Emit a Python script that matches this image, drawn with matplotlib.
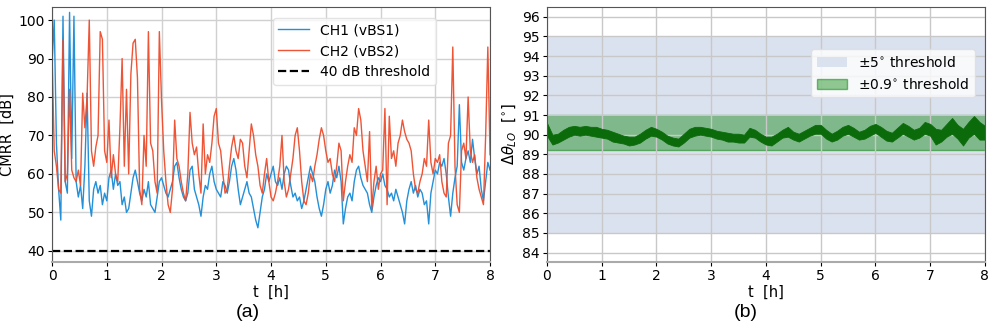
import numpy as np
import matplotlib
matplotlib.use("Agg")
import matplotlib.pyplot as plt

# CMRR of both channels, one sample every 0.04 h
cmrr_ch1 = [89, 100, 68, 56, 48, 101, 58, 55, 102, 64, 101, 58, 54, 57, 51, 62, 81, 53, 49, 56,
            58, 55, 57, 52, 55, 53, 59, 61, 56, 60, 57, 58, 52, 54, 50, 51, 55, 59, 61, 58,
            55, 53, 56, 54, 58, 52, 51, 50, 54, 58, 59, 57, 55, 54, 56, 58, 62, 63, 59, 56,
            54, 53, 55, 61, 62, 56, 54, 52, 49, 54, 57, 56, 60, 62, 58, 56, 55, 54, 58, 57,
            55, 58, 62, 64, 61, 56, 52, 54, 56, 58, 55, 54, 51, 48, 46, 50, 54, 56, 60, 58,
            60, 62, 58, 57, 59, 56, 60, 62, 61, 57, 54, 55, 53, 54, 51, 53, 56, 59, 62, 60,
            58, 54, 51, 49, 52, 56, 58, 55, 57, 61, 59, 62, 58, 47, 51, 54, 55, 53, 58, 61,
            62, 59, 57, 56, 55, 52, 50, 54, 57, 59, 58, 60, 57, 56, 54, 55, 53, 56, 54, 52,
            50, 47, 53, 56, 58, 55, 57, 54, 56, 55, 52, 53, 47, 55, 58, 61, 60, 63, 62, 64,
            60, 54, 49, 55, 59, 62, 78, 63, 61, 64, 66, 63, 69, 64, 60, 62, 56, 53, 58, 63, 61]
cmrr_ch2 = [91, 66, 62, 56, 55, 95, 58, 60, 82, 61, 59, 58, 61, 57, 81, 72, 80, 100, 66, 62,
            67, 70, 97, 95, 66, 63, 74, 59, 65, 60, 58, 72, 90, 62, 82, 60, 86, 94, 95, 85,
            56, 52, 70, 62, 97, 68, 66, 58, 55, 97, 79, 66, 58, 52, 50, 56, 74, 64, 62, 58,
            55, 53, 60, 76, 68, 65, 67, 60, 55, 73, 60, 65, 63, 68, 75, 77, 68, 66, 60, 55,
            56, 62, 67, 70, 66, 64, 69, 68, 62, 59, 66, 73, 70, 65, 62, 57, 55, 60, 64, 58,
            54, 53, 55, 58, 62, 70, 58, 54, 56, 60, 64, 70, 72, 66, 58, 53, 52, 55, 60, 58,
            62, 65, 69, 72, 70, 66, 63, 64, 60, 58, 62, 68, 66, 53, 58, 62, 65, 63, 72, 70,
            77, 74, 66, 62, 58, 71, 51, 58, 62, 56, 60, 61, 77, 52, 75, 64, 66, 62, 68, 70,
            74, 71, 69, 68, 66, 60, 56, 55, 58, 60, 64, 62, 74, 63, 60, 64, 63, 65, 58, 55,
            54, 68, 70, 93, 62, 52, 50, 66, 68, 64, 80, 66, 63, 65, 59, 56, 54, 52, 70, 93, 65]
cmrr_threshold = 40

# LO phase difference: upper / lower edge of the noisy trace, every 0.1 h
theta_hi = [90.6, 90.0, 90.05, 90.25, 90.4, 90.45, 90.4, 90.45, 90.4, 90.4,
            90.3, 90.25, 90.15, 90.05, 89.95, 89.9, 89.9, 90.05, 90.25, 90.4,
            90.3, 90.15, 89.95, 89.85, 89.8, 90.05, 90.3, 90.4, 90.4, 90.35,
            90.3, 90.2, 90.15, 90.1, 90.05, 90.05, 90.0, 90.35, 90.25, 90.05,
            89.9, 89.9, 90.05, 90.25, 90.4, 90.15, 90.05, 90.2, 90.35, 90.5,
            90.5, 90.25, 90.05, 90.2, 90.4, 90.5, 90.35, 90.15, 90.25, 90.45,
            90.55, 90.4, 90.2, 90.1, 90.35, 90.6, 90.45, 90.25, 90.35, 90.65,
            90.55, 90.3, 90.25, 90.55, 90.85, 90.5, 90.3, 90.65, 90.95, 90.65, 90.45]
theta_lo = [89.95, 89.5, 89.6, 89.75, 89.9, 90.0, 89.95, 90.0, 89.95, 89.9,
            89.85, 89.8, 89.65, 89.6, 89.55, 89.45, 89.5, 89.6, 89.8, 89.95,
            89.9, 89.75, 89.55, 89.45, 89.4, 89.6, 89.85, 89.95, 90.0, 89.95,
            89.9, 89.8, 89.75, 89.65, 89.65, 89.6, 89.6, 89.9, 89.85, 89.65,
            89.5, 89.45, 89.65, 89.85, 89.9, 89.75, 89.65, 89.8, 89.95, 90.05,
            90.05, 89.8, 89.65, 89.75, 89.95, 90.05, 89.9, 89.75, 89.8, 89.95,
            90.1, 89.9, 89.7, 89.65, 89.85, 90.05, 89.9, 89.75, 89.85, 90.05,
            89.95, 89.5, 89.65, 89.9, 90.05, 89.8, 89.45, 89.85, 90.05, 89.75, 89.75]
theta_center = 90.1
wide_tol = 5
narrow_tol = 0.9

t1 = np.linspace(0, 8, len(cmrr_ch1))
t2 = np.linspace(0, 8, len(theta_hi))

plt.rcParams["font.family"] = "DejaVu Sans"
plt.rcParams["font.size"] = 10

fig = plt.figure(figsize=(9.97, 3.27), dpi=100)
ax1 = fig.add_axes([0.0522, 0.1988, 0.4393, 0.7798])
ax2 = fig.add_axes([0.5486, 0.1988, 0.4393, 0.7798])

# (a) CMRR
ax1.plot(t1, cmrr_ch1, color="#2390d8", lw=1.0, label="CH1 (vBS1)")
ax1.plot(t1, cmrr_ch2, color="#ee4b2b", lw=1.0, alpha=0.95, label="CH2 (vBS2)")
ax1.axhline(cmrr_threshold, color="black", ls="--", lw=1.6, label="40 dB threshold")
ax1.set_xlim(0, 8)
ax1.set_ylim(37.1, 103.4)
ax1.set_yticks([40, 50, 60, 70, 80, 90, 100])
ax1.set_xticks(range(9))
ax1.set_ylabel("CMRR  [dB]", fontsize=10.5, labelpad=3)
ax1.set_xlabel("t  [h]", fontsize=10.5, labelpad=1)
ax1.grid(True, color="#d0d0d0", lw=1)
ax1.set_axisbelow(True)
ax1.legend(loc="upper center", bbox_to_anchor=(0.69, 0.985), fontsize=10,
           framealpha=0.8, edgecolor="#dddddd", handlelength=2.2)

# (b) LO phase
ax2.axhspan(theta_center - wide_tol - 0.1, theta_center + wide_tol - 0.1,
            color="#dbe2ef", lw=0, label="±5$^{\\circ}$ threshold", zorder=1)
ax2.axhspan(theta_center - narrow_tol, theta_center + narrow_tol,
            facecolor=(0.0, 0.5, 0.0, 0.42), edgecolor=(0.0, 0.5, 0.0, 0.5), lw=1,
            label="±0.9$^{\\circ}$ threshold", zorder=1.2)
ax2.fill_between(t2, theta_lo, theta_hi, color="#0b6b0b", lw=0.6, zorder=2)
ax2.set_xlim(0, 8)
ax2.set_ylim(83.52, 96.5)
ax2.set_yticks(range(84, 97))
ax2.set_xticks(range(9))
ax2.set_ylabel("$\\Delta\\theta_{LO}$  [$^{\\circ}$]", fontsize=10.5, labelpad=2)
ax2.set_xlabel("t  [h]", fontsize=10.5, labelpad=1)
ax2.grid(True, color="#c8c8c8", lw=1)
ax2.set_axisbelow("line")
ax2.legend(loc="center", bbox_to_anchor=(0.79, 0.74), fontsize=10,
           framealpha=0.8, edgecolor="#dddddd", handlelength=2.2)

for ax in (ax1, ax2):
    for s in ax.spines.values():
        s.set_color("#555555")
    ax.spines["bottom"].set_color("#aaaaaa")
    ax.spines["bottom"].set_linewidth(1.5)
    ax.tick_params(length=3, pad=2, labelsize=10)

fig.text(0.249, 0.043, "(a)", fontsize=14, family="Liberation Sans", ha="center", va="center")
fig.text(0.748, 0.043, "(b)", fontsize=14, family="Liberation Sans", ha="center", va="center")

fig.savefig("out.png", dpi=100)
